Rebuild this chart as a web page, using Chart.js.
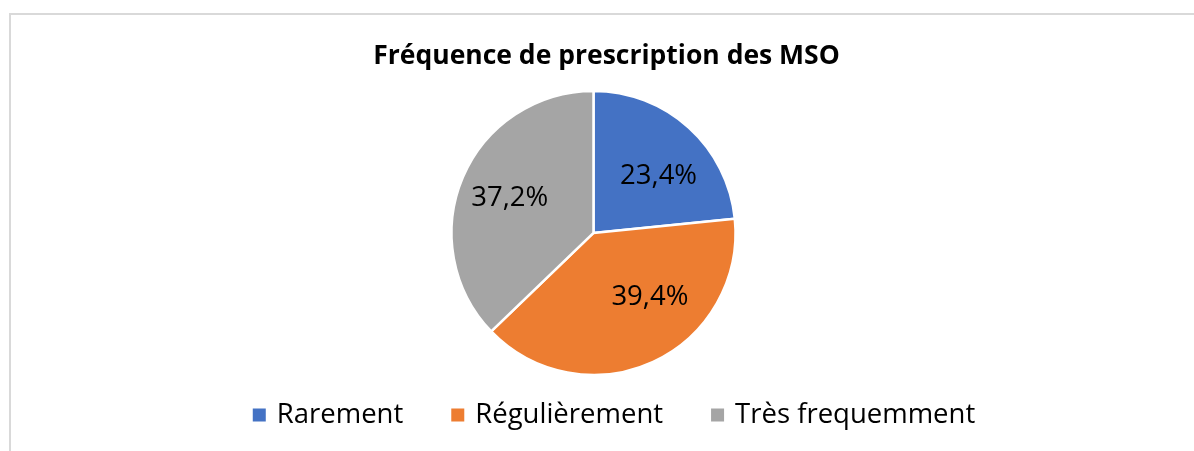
<!DOCTYPE html>
<html>
<head>
<meta charset="utf-8">
<script src="https://cdn.jsdelivr.net/npm/chart.js@4"></script>
<style>
  html, body { margin: 0; padding: 0; background: #ffffff; }
  #wrap { position: relative; width: 1194px; height: 451px; overflow: hidden; }
  #frame { position: absolute; left: 9px; top: 13px; width: 1220px; height: 480px;
           border: 2px solid #d9d9d9; box-sizing: border-box; }
  #c { position: absolute; left: 0; top: 0; }
</style>
</head>
<body>
<div id="wrap">
  <div id="frame"></div>
  <canvas id="c" width="1194" height="451"></canvas>
</div>
<script>
const titleText = "Fréquence de prescription des MSO";
const categories = ["Rarement", "Régulièrement", "Très frequemment"];
const values = [23.4, 39.4, 37.2];
const valueLabels = ["23,4%", "39,4%", "37,2%"];
const colors = ["#4472C4", "#ED7D31", "#A5A5A5"];

const FONT = "'Open Sans', 'DejaVu Sans', sans-serif";

// shift title horizontally after layout
const shiftPlugin = {
  id: 'shiftTitle',
  afterLayout(chart, args, opts) {
    const t = chart.titleBlock;
    if (t) { t.left += opts.dx; t.right += opts.dx; }
  }
};

// value labels inside slices
const valueLabelPlugin = {
  id: 'valueLabels',
  afterDatasetsDraw(chart, args, opts) {
    const ctx = chart.ctx;
    const meta = chart.getDatasetMeta(0);
    ctx.save();
    ctx.font = opts.font;
    ctx.fillStyle = opts.color;
    ctx.textAlign = 'center';
    ctx.textBaseline = 'middle';
    meta.data.forEach((arc, i) => {
      const p = arc.getProps(['x', 'y', 'startAngle', 'endAngle', 'outerRadius'], true);
      const mid = (p.startAngle + p.endAngle) / 2;
      const r = p.outerRadius * opts.radiusFrac;
      const n = opts.nudge[i] || [0, 0];
      const x = p.x + Math.cos(mid) * r + n[0];
      const y = p.y + Math.sin(mid) * r + n[1];
      ctx.fillText(valueLabels[i], x, y);
    });
    ctx.restore();
  }
};

// custom bottom legend
const legendPlugin = {
  id: 'bottomLegend',
  afterDraw(chart, args, opts) {
    const ctx = chart.ctx;
    ctx.save();
    ctx.font = opts.font;
    ctx.textBaseline = 'middle';
    ctx.textAlign = 'left';
    const labels = chart.data.labels;
    const bg = chart.data.datasets[0].backgroundColor;
    const widths = labels.map(l => opts.box + opts.gap + ctx.measureText(l).width);
    const total = widths.reduce((a, b) => a + b, 0) + opts.spacing * (labels.length - 1);
    let x = opts.centerX - total / 2;
    const y = opts.centerY;
    labels.forEach((l, i) => {
      ctx.fillStyle = bg[i];
      ctx.fillRect(x, y - opts.box / 2, opts.box, opts.box);
      ctx.fillStyle = opts.color;
      ctx.fillText(l, x + opts.box + opts.gap, y + opts.textDy);
      x += widths[i] + opts.spacing;
    });
    ctx.restore();
  }
};

new Chart(document.getElementById('c'), {
  type: 'pie',
  data: {
    labels: categories,
    datasets: [{
      data: values,
      backgroundColor: colors,
      borderColor: '#ffffff',
      borderWidth: 2.5,
      radius: 142
    }]
  },
  options: {
    responsive: false,
    animation: false,
    layout: { padding: { left: 0, right: 7, top: 0, bottom: 58 } },
    plugins: {
      legend: { display: false },
      tooltip: { enabled: false },
      title: {
        display: true,
        text: titleText,
        color: '#000000',
        font: { family: FONT, size: 26.5, weight: 'bold', lineHeight: 1.2 },
        padding: { top: 41, bottom: 0 }
      },
      shiftTitle: { dx: 13 },
      valueLabels: {
        font: "27.5px " + FONT,
        color: '#000000',
        radiusFrac: 0.61,
        nudge: [[7, 8], [20, -14], [-4, -1]]
      },
      bottomLegend: {
        font: "27.5px " + FONT,
        color: '#000000',
        box: 13,
        gap: 11,
        spacing: 48,
        centerX: 614,
        centerY: 415,
        textDy: 0
      }
    }
  },
  plugins: [shiftPlugin, valueLabelPlugin, legendPlugin]
});
</script>
</body>
</html>
